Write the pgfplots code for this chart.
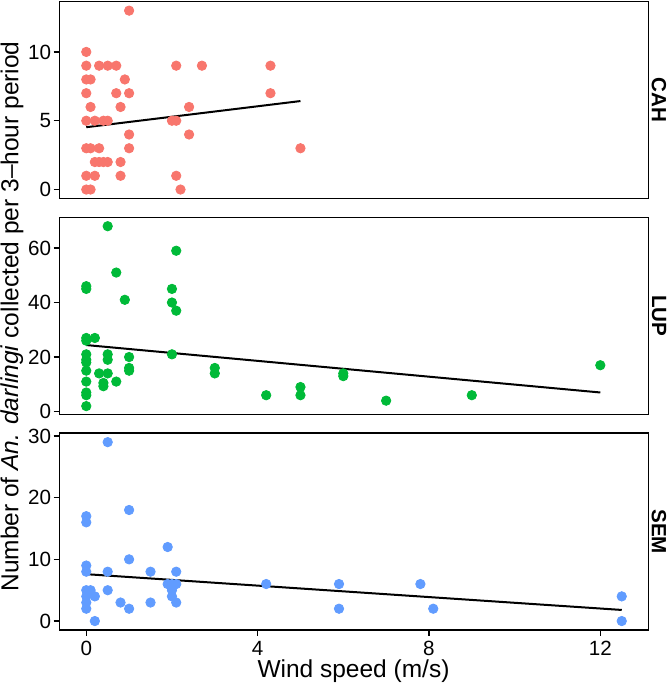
\documentclass[border=0pt]{standalone}
\usepackage{fontspec}
\setmainfont{Liberation Sans}
\usepackage{pgfplots}
\pgfplotsset{compat=1.18}
\definecolor{cR}{HTML}{F8766D}
\definecolor{cG}{HTML}{00BA38}
\definecolor{cB}{HTML}{619CFF}
\pgfplotsset{panel/.style={
  scale only axis, width=294.5pt, height=98.4pt, anchor=south west,
  xmin=-0.625, xmax=13.125,
  axis line style={line width=0.75pt, black},
  tick align=outside, major tick length=3pt,
  tick style={line width=0.75pt, black},
  tick pos=left, minor tick num=0,
  tick label style={font=\fontsize{10.3}{12}\selectfont},
  yticklabel style={inner sep=1pt},
  xticklabel style={inner sep=0.5pt, yshift=-2pt},
  /pgf/number format/assume math mode=true,
  scaled ticks=false,
},
pts/.style={only marks, mark=*, mark size=2.35pt, color=#1, mark options={draw=none, fill=#1}},
fit/.style={black, line width=1pt, no marks}
}
\begin{document}
\begin{tikzpicture}
\useasboundingbox (0,0) rectangle (335.5pt,342pt);
% CAH
\begin{axis}[panel, at={(29.75pt,242.75pt)}, ymin=-0.65, ymax=13.65, ytick={0,5,10}, xtick=\empty]
\addplot[pts=cR] coordinates {
(1.0,13) (0,10) (0,9) (0.3,9) (0.5,9) (0.7,9) (2.1,9) (2.7,9) (4.3,9)
(0,8) (0.1,8) (0.9,8)
(0,7) (0.7,7) (1.0,7) (4.3,7)
(0.1,6) (0.8,6) (2.4,6)
(0,5) (0.2,5) (0.4,5) (0.5,5) (2.0,5) (2.1,5)
(1.0,4) (2.4,4)
(0,3) (0.1,3) (0.3,3) (1.0,3) (5.0,3)
(0.2,2) (0.3,2) (0.4,2) (0.5,2) (0.8,2)
(0,1) (0.2,1) (0.8,1) (2.1,1)
(0,0) (0.1,0) (2.2,0)
};
\addplot[fit] coordinates {(0,4.53) (5,6.43)};
\end{axis}
% LUP
\begin{axis}[panel, at={(29.75pt,134.85pt)}, ymin=-1.0, ymax=71.2, ytick={0,20,40,60}, xtick=\empty]
\addplot[pts=cG] coordinates {
(0.5,68) (2.1,59) (0.7,51) (0,46) (0,45) (2.0,45) (0.9,41) (2.0,40) (2.1,37)
(0,27) (0,26) (0.2,27) (2.0,21)
(0,21) (0,19) (0,18) (0,15) (0,11) (0,7) (0,6) (0,2)
(0.5,21) (0.5,19) (0.3,14) (0.5,14) (0.4,10.5) (0.4,9.3) (0.7,11)
(1.0,20) (1.0,16) (1.0,15)
(3.0,16) (3.0,14) (4.2,6) (5.0,9) (5.0,6) (6.0,14) (6.0,13) (7.0,4) (9.0,6) (12.0,17)
};
\addplot[fit] coordinates {(0,24.4) (12,7.0)};
\end{axis}
% SEM
\begin{axis}[panel, at={(29.75pt,27pt)}, ymin=-1.45, ymax=30.45, ytick={0,10,20,30}, xtick={0,4,8,12}]
\addplot[pts=cB] coordinates {
(0.5,29) (1.0,18) (0,17) (0,16) (1.9,12) (1.0,10) (0,9) (0,8) (0.5,8) (1.5,8) (2.1,8)
(1.9,6) (2.0,6) (2.1,6) (2.0,5) (2.0,4) (2.1,3)
(0,5) (0.1,5) (0,4) (0,3) (0,2) (0.2,4) (0.5,5) (0.8,3) (1.0,2) (1.5,3) (0.2,0)
(4.2,6) (5.9,6) (5.9,2) (7.8,6) (8.1,2) (12.5,4) (12.5,0)
};
\addplot[fit] coordinates {(0,7.6) (12.5,1.8)};
\end{axis}
\node[rotate=90, anchor=base, font=\fontsize{12.25}{14}\selectfont] at (9.25pt,183.75pt) {Number of \textit{An. darlingi} collected per 3--hour period};
\node[anchor=base, inner sep=0pt, font=\fontsize{12.25}{14}\selectfont] at (176.75pt,3pt) {Wind speed (m/s)};
\node[rotate=-90, font=\bfseries\fontsize{10.3}{12}\selectfont] at (329.5pt,292pt) {CAH};
\node[rotate=-90, font=\bfseries\fontsize{10.3}{12}\selectfont] at (329.5pt,184pt) {LUP};
\node[rotate=-90, font=\bfseries\fontsize{10.3}{12}\selectfont] at (329.5pt,76.2pt) {SEM};
\end{tikzpicture}
\end{document}
